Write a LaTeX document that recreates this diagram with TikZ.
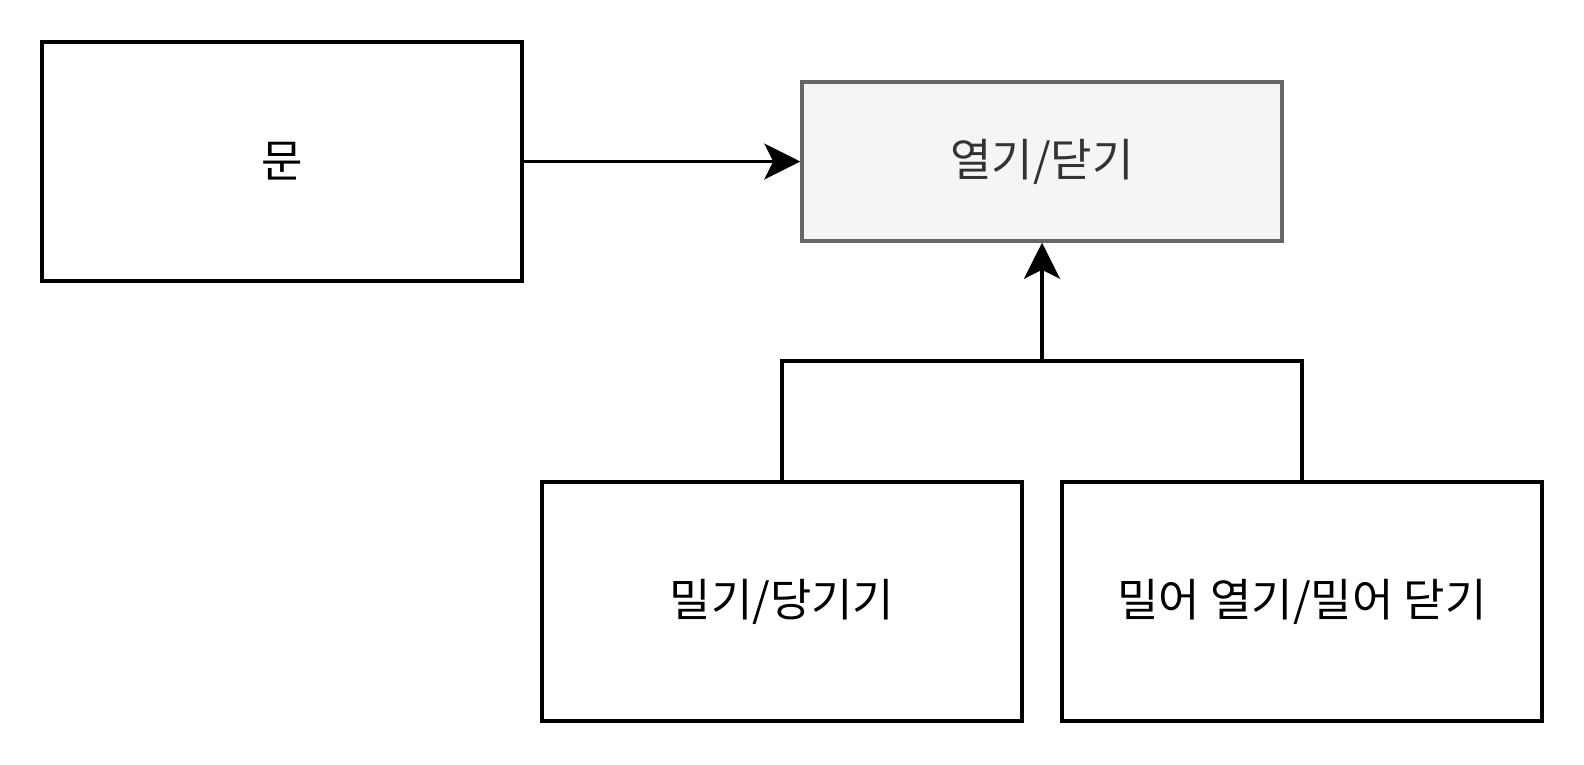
\documentclass[tikz,border=0pt]{standalone}
\usepackage{fontspec}
\newfontfamily\cjk{Noto Sans CJK KR}
\usetikzlibrary{arrows.meta}
\definecolor{greyfill}{HTML}{F5F5F5}
\definecolor{greydraw}{HTML}{666666}
\definecolor{greytext}{HTML}{333333}
\begin{document}
\begin{tikzpicture}[x=1pt,y=-1pt,
  box/.style={draw=black, line width=3.5pt, fill=white, minimum width=480pt, minimum height=239pt, inner sep=0pt, font=\cjk\fontsize{45}{54}\selectfont},
  greybox/.style={box, draw=greydraw, fill=greyfill, text=greytext, minimum height=159pt},
  conn/.style={line width=3.5pt, draw=black},
  arr/.style={conn, -{Stealth[length=36pt, width=36pt, inset=9pt]}}]
\useasboundingbox (0,0) rectangle (1584,764);
\node[box] (door) at (282,161.5) {문};
\node[greybox] (open) at (1042,161.5) {열기/닫기};
\node[box] (push) at (782,601.5) {밀기/당기기};
\node[box] (slide) at (1302,601.5) {밀어 열기/밀어 닫기};
\coordinate (junc) at (1042,361);
\draw[arr] (door.east) -- (open.west);
\draw[conn] (push.north) |- (junc);
\draw[conn] (slide.north) |- (junc);
\draw[arr] (junc) -- (open.south);
\end{tikzpicture}
\end{document}
